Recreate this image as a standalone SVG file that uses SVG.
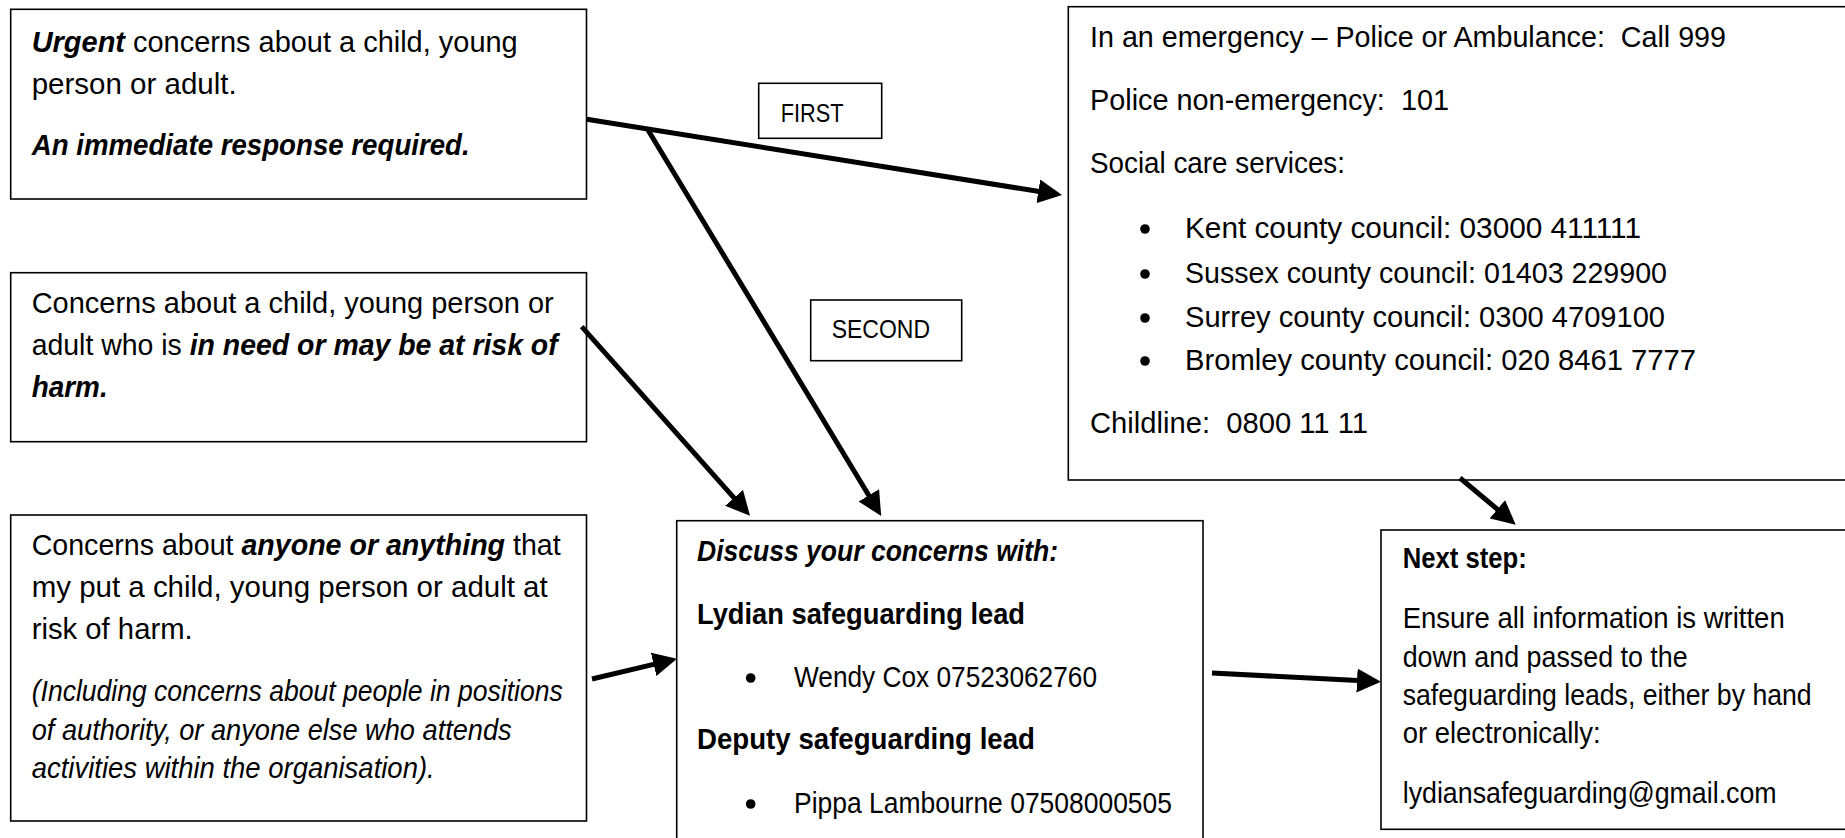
<svg xmlns="http://www.w3.org/2000/svg" width="1845" height="838" viewBox="0 0 1845 838">
<style>
  .box { fill: #ffffff; stroke: #000000; stroke-width: 1.6; }
  .t { font-family: "Liberation Sans", Arial, sans-serif; font-size: 29px; fill: #000000; }
  .lbl { font-family: "Liberation Sans", Arial, sans-serif; font-size: 25px; fill: #000000; }
  .b { font-weight: bold; }
  .i { font-style: italic; }
  .bi { font-weight: bold; font-style: italic; }
  .arrow { fill: none; stroke: #000000; stroke-width: 5; marker-end: url(#head); }
  .dot { fill: #000000; }
</style>
<defs>
  <marker id="head" markerUnits="userSpaceOnUse" viewBox="0 0 24 24" refX="1" refY="12" markerWidth="24" markerHeight="24" orient="auto">
    <path d="M0,0 L24,12 L0,24 Z" fill="#000000"/>
  </marker>
</defs>
<rect x="0" y="0" width="1845" height="838" fill="#ffffff"/>

<g id="urgent">
  <rect class="box" x="10.7" y="9.3" width="575.8" height="189.7"/>
  <text class="t" x="31.7" y="52" textLength="486" lengthAdjust="spacingAndGlyphs"><tspan class="bi">Urgent</tspan> concerns about a child, young</text>
  <text class="t" x="31.7" y="94" textLength="205" lengthAdjust="spacingAndGlyphs">person or adult.</text>
  <text class="t bi" x="31.7" y="155" textLength="438" lengthAdjust="spacingAndGlyphs">An immediate response required.</text>
</g>

<g id="need">
  <rect class="box" x="10.7" y="272.7" width="575.8" height="169"/>
  <text class="t" x="31.7" y="313" textLength="522" lengthAdjust="spacingAndGlyphs">Concerns about a child, young person or</text>
  <text class="t" x="31.7" y="355" textLength="526" lengthAdjust="spacingAndGlyphs">adult who is <tspan class="bi">in need or may be at risk of</tspan></text>
  <text class="t bi" x="31.7" y="397" textLength="76" lengthAdjust="spacingAndGlyphs">harm.</text>
</g>

<g id="anyone">
  <rect class="box" x="10.7" y="515" width="575.8" height="306"/>
  <text class="t" x="31.7" y="555" textLength="529" lengthAdjust="spacingAndGlyphs">Concerns about <tspan class="bi">anyone or anything</tspan> that</text>
  <text class="t" x="31.7" y="597" textLength="516" lengthAdjust="spacingAndGlyphs">my put a child, young person or adult at</text>
  <text class="t" x="31.7" y="639" textLength="161" lengthAdjust="spacingAndGlyphs">risk of harm.</text>
  <text class="t i" x="31.7" y="701" textLength="531" lengthAdjust="spacingAndGlyphs">(Including concerns about people in positions</text>
  <text class="t i" x="31.7" y="740" textLength="480" lengthAdjust="spacingAndGlyphs">of authority, or anyone else who attends</text>
  <text class="t i" x="31.7" y="778" textLength="403" lengthAdjust="spacingAndGlyphs">activities within the organisation).</text>
</g>

<g id="first-label">
  <rect class="box" x="758.7" y="83.3" width="123" height="55"/>
  <text class="lbl" x="780.7" y="121.7" textLength="62.7" lengthAdjust="spacingAndGlyphs">FIRST</text>
</g>

<g id="second-label">
  <rect class="box" x="810.7" y="300" width="151" height="60.7"/>
  <text class="lbl" x="831.7" y="338" textLength="98.3" lengthAdjust="spacingAndGlyphs">SECOND</text>
</g>

<g id="emergency">
  <rect class="box" x="1068.3" y="6.7" width="800" height="473.3"/>
  <text class="t" x="1090" y="46.7" textLength="636" lengthAdjust="spacingAndGlyphs" xml:space="preserve">In an emergency – Police or Ambulance:  Call 999</text>
  <text class="t" x="1090" y="110" textLength="359" lengthAdjust="spacingAndGlyphs" xml:space="preserve">Police non-emergency:  101</text>
  <text class="t" x="1090" y="172.7" textLength="255" lengthAdjust="spacingAndGlyphs">Social care services:</text>
  <circle class="dot" cx="1145" cy="229" r="4.8"/>
  <text class="t" x="1185" y="238" textLength="456" lengthAdjust="spacingAndGlyphs">Kent county council: 03000 411111</text>
  <circle class="dot" cx="1145" cy="274" r="4.8"/>
  <text class="t" x="1185" y="283" textLength="482" lengthAdjust="spacingAndGlyphs">Sussex county council: 01403 229900</text>
  <circle class="dot" cx="1145" cy="318" r="4.8"/>
  <text class="t" x="1185" y="327" textLength="480" lengthAdjust="spacingAndGlyphs">Surrey county council: 0300 4709100</text>
  <circle class="dot" cx="1145" cy="361" r="4.8"/>
  <text class="t" x="1185" y="370" textLength="511" lengthAdjust="spacingAndGlyphs">Bromley county council: 020 8461 7777</text>
  <text class="t" x="1090" y="433" textLength="278" lengthAdjust="spacingAndGlyphs" xml:space="preserve">Childline:  0800 11 11</text>
</g>

<g id="discuss">
  <rect class="box" x="676.7" y="520.7" width="526.3" height="340"/>
  <text class="t bi" x="697" y="561" textLength="361" lengthAdjust="spacingAndGlyphs">Discuss your concerns with:</text>
  <text class="t b" x="697" y="624" textLength="328" lengthAdjust="spacingAndGlyphs">Lydian safeguarding lead</text>
  <circle class="dot" cx="750.7" cy="678" r="4.8"/>
  <text class="t" x="794" y="687" textLength="303" lengthAdjust="spacingAndGlyphs">Wendy Cox 07523062760</text>
  <text class="t b" x="697" y="749" textLength="338" lengthAdjust="spacingAndGlyphs">Deputy safeguarding lead</text>
  <circle class="dot" cx="750.7" cy="804" r="4.8"/>
  <text class="t" x="794" y="813" textLength="378" lengthAdjust="spacingAndGlyphs">Pippa Lambourne 07508000505</text>
</g>

<g id="next-step">
  <rect class="box" x="1381" y="530" width="500" height="299.3"/>
  <text class="t b" x="1402.7" y="568" textLength="124" lengthAdjust="spacingAndGlyphs">Next step:</text>
  <text class="t" x="1402.7" y="628" textLength="382" lengthAdjust="spacingAndGlyphs">Ensure all information is written</text>
  <text class="t" x="1402.7" y="667" textLength="285" lengthAdjust="spacingAndGlyphs">down and passed to the</text>
  <text class="t" x="1402.7" y="705" textLength="409" lengthAdjust="spacingAndGlyphs">safeguarding leads, either by hand</text>
  <text class="t" x="1402.7" y="743" textLength="198" lengthAdjust="spacingAndGlyphs">or electronically:</text>
  <text class="t" x="1402.7" y="803" textLength="374" lengthAdjust="spacingAndGlyphs">lydiansafeguarding@gmail.com</text>
</g>

<g id="connectors">
  <line class="arrow" x1="586.7" y1="119.3" x2="1039.3" y2="191.5"/>
  <line class="arrow" x1="648" y1="130" x2="869.3" y2="496.2"/>
  <line class="arrow" x1="581.7" y1="326.7" x2="734.7" y2="498.6"/>
  <line class="arrow" x1="592" y1="679" x2="654.6" y2="664.1"/>
  <line class="arrow" x1="1212" y1="673" x2="1358" y2="680.6"/>
  <line class="arrow" x1="1460" y1="478" x2="1498.1" y2="509.9"/>
</g>
</svg>
